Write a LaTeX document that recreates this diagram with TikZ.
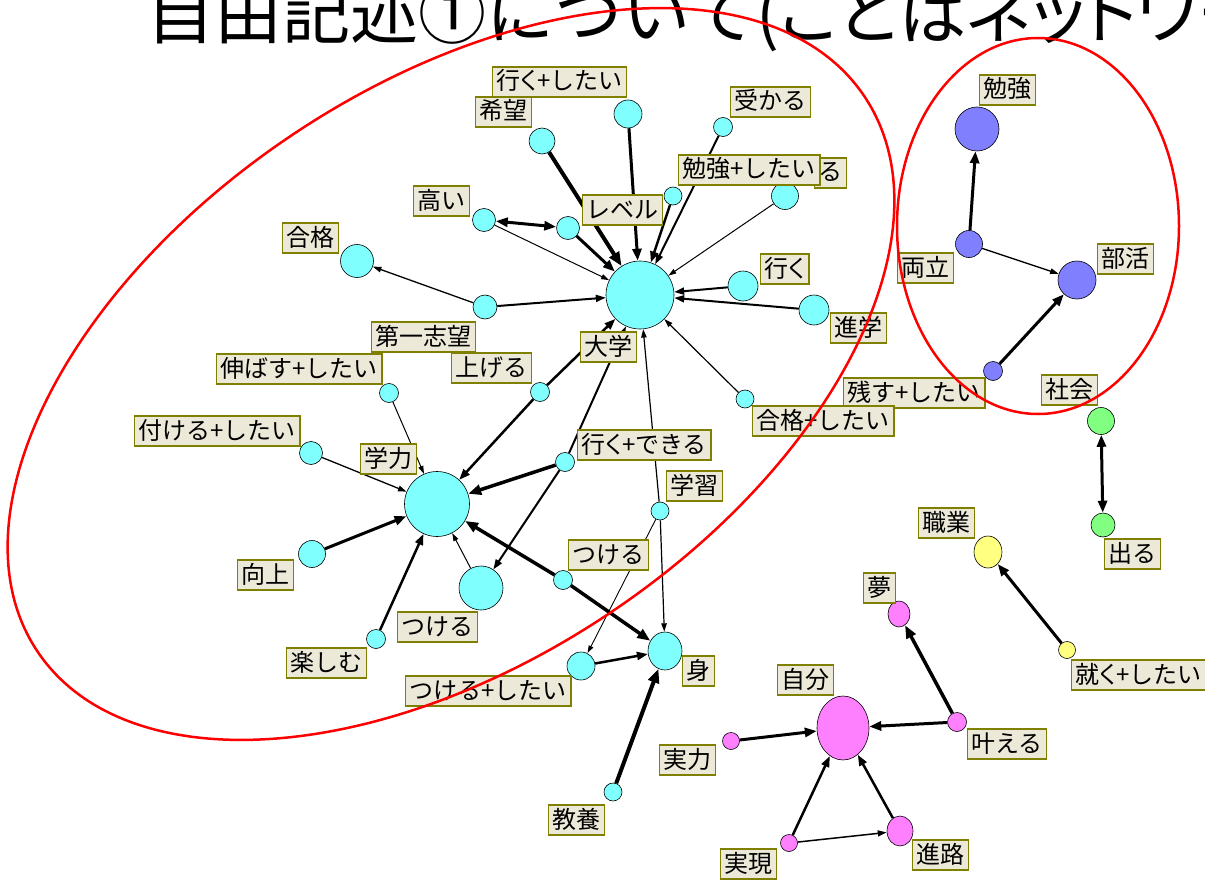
\documentclass[tikz,border=0pt]{standalone}
\usepackage{fontspec}
\usetikzlibrary{arrows.meta,shapes.geometric}
\newfontfamily\jp{Noto Sans CJK JP}
\newfontfamily\jpp{Noto Sans CJK JP}[RawFeature=+palt]
\definecolor{cy}{HTML}{80FFFF}
\definecolor{bl}{HTML}{8080FF}
\definecolor{gr}{HTML}{80FF80}
\definecolor{ye}{HTML}{FFFF80}
\definecolor{pk}{HTML}{FF80FF}
\definecolor{lbfill}{HTML}{ECE9D8}
\definecolor{lbdraw}{HTML}{808000}
\definecolor{rd}{HTML}{FF0000}
\begin{document}
\begin{tikzpicture}[x=1pt,y=-1pt,
  nd/.style={circle,draw=black,line width=0.6pt,inner sep=0pt,minimum size=#1},
  ndE/.style 2 args={ellipse,draw=black,line width=0.6pt,inner sep=0pt,minimum width=#1,minimum height=#2},
  cyN/.style={nd=#1,fill=cy},
  blN/.style={nd=#1,fill=bl},
  grN/.style={nd=#1,fill=gr},
  yeN/.style={nd=#1,fill=ye},
  pkN/.style={nd=#1,fill=pk},
  cyE/.style 2 args={ndE={#1}{#2},fill=cy},
  yeE/.style 2 args={ndE={#1}{#2},fill=ye},
  pkE/.style 2 args={ndE={#1}{#2},fill=pk},
  lb/.style={draw=lbdraw,line width=1.2pt,fill=lbfill,font=\jp\fontsize{24}{24}\selectfont,
    inner xsep=4pt,inner ysep=0pt,minimum height=30pt,text height=20pt,text depth=4pt,anchor=west},
  ed/.style={line width=#1,-{Triangle[length=6pt 2,width=3pt 2]}},
  bi/.style={line width=#1,{Triangle[length=6pt 2,width=3pt 2]}-{Triangle[length=6pt 2,width=3pt 2]}},
  redring/.style={draw=rd,line width=2.5pt}
]
\useasboundingbox (0,0) rectangle (1205,880);
\clip (0,0) rectangle (1205,880);
\fill[white] (0,0) rectangle (1205,880);

% title (cut at the top, as in the reference)
\node[anchor=base west,inner sep=0pt,font=\jp\fontsize{68}{68}\selectfont] (title) at (146,39)
  {自由記述①について({\jpp ことばネットワーク})};

% ---------- nodes ----------
\node[cyN=68] (dg) at (640,295) {};
\node[cyN=28] (ikushitai) at (628,114) {};
\node[cyN=26] (kibou) at (542,141) {};
\node[cyN=19] (ukaru) at (723,127) {};
\node[cyN=18] (benshitai) at (673,196) {};
\node[cyN=27] (ru) at (785,196) {};
\node[cyN=23] (takai) at (484,220) {};
\node[cyN=23] (level) at (568,228) {};
\node[cyN=33] (goukaku) at (357,261) {};
\node[cyN=24] (daiichi) at (485,307) {};
\node[cyN=30] (iku) at (743,286) {};
\node[cyN=30] (shingaku) at (814,310) {};
\node[cyN=18] (goushitai) at (745,399) {};
\node[cyN=19] (ageru) at (540,392) {};
\node[cyN=19] (nobasu) at (389,393) {};
\node[cyN=23] (tsukeshitai) at (311,453) {};
\node[cyN=65] (gakuryoku) at (437,504) {};
\node[cyN=19] (ikudekiru) at (565,462) {};
\node[cyN=18] (gakushu) at (660,511) {};
\node[cyN=27] (kojo) at (312,554) {};
\node[cyN=44] (tsukeL) at (481,588) {};
\node[cyN=19] (tsukeS) at (563,580) {};
\node[cyN=19] (tanoshimu) at (376,639) {};
\node[cyE={34}{38}] (mi) at (665,651) {};
\node[cyN=28] (tsukerushitai) at (581,666) {};
\node[cyN=18] (kyoyo) at (613,792) {};

\node[blN=44] (benkyo) at (977,129) {};
\node[blN=27] (ryoritsu) at (969,244) {};
\node[blN=38] (bukatsu) at (1077,280) {};
\node[blN=19] (nokosu) at (993,371) {};

\node[grN=27] (shakai) at (1101,421) {};
\node[grN=24] (deru) at (1103,525) {};

\node[yeE={28}{32}] (shokugyo) at (988,552) {};
\node[yeN=17] (tsukushitai) at (1067,650) {};

\node[pkE={52}{64}] (jibun) at (843,728) {};
\node[pkE={22}{26}] (yume) at (899,614) {};
\node[pkN=19] (kanaeru) at (957,722) {};
\node[pkN=17] (jitsuryoku) at (731,741) {};
\node[pkN=17] (jitsugen) at (789,843) {};
\node[pkE={26}{30}] (shinro) at (900,831) {};

% ---------- edges ----------
\draw[ed=4pt] (kibou) -- (dg);
\draw[ed=3pt] (ikushitai) -- (dg);
\draw[ed=2pt] (ukaru) -- (dg);
\draw[ed=2.5pt] (benshitai) -- (dg);
\draw[ed=1pt] (ru) -- (dg);
\draw[ed=1pt] (takai) -- (dg);
\draw[bi=3pt] (takai) -- (level);
\draw[ed=3pt] (level) -- (dg);
\draw[ed=2pt] (daiichi) -- (dg);
\draw[ed=1.3pt] (daiichi) -- (goukaku);
\draw[ed=2pt] (iku) -- (dg);
\draw[ed=2pt] (shingaku) -- (dg);
\draw[ed=1.2pt] (goushitai) -- (dg);
\draw[ed=2.5pt] (ageru) -- (dg);
\draw[ed=2.5pt] (ageru) -- (gakuryoku);
\draw[ed=2pt] (ikudekiru) -- (dg);
\draw[ed=3.5pt] (ikudekiru) -- (gakuryoku);
\draw[ed=2pt] (ikudekiru) -- (tsukeL);
\draw[ed=1.2pt] (gakushu) -- (dg);
\draw[ed=1.2pt] (gakushu) -- (mi);
\draw[ed=0.9pt] (gakushu) -- (tsukerushitai);
\draw[ed=3.5pt] (tsukeS) -- (gakuryoku);
\draw[ed=3.5pt] (tsukeS) -- (mi);
\draw[ed=2.5pt] (tsukerushitai) -- (mi);
\draw[ed=4pt] (kyoyo) -- (mi);
\draw[ed=1pt] (nobasu) -- (gakuryoku);
\draw[ed=1.3pt] (tsukeshitai) -- (gakuryoku);
\draw[ed=3pt] (kojo) -- (gakuryoku);
\draw[ed=2.5pt] (tanoshimu) -- (gakuryoku);
\draw[ed=1pt] (tsukeL) -- (gakuryoku);
\draw[ed=3pt] (ryoritsu) -- (benkyo);
\draw[ed=1.3pt] (ryoritsu) -- (bukatsu);
\draw[ed=3pt] (nokosu) -- (bukatsu);
\draw[bi=3pt] (shakai) -- (deru);
\draw[ed=3pt] (tsukushitai) -- (shokugyo);
\draw[ed=3.5pt] (kanaeru) -- (yume);
\draw[ed=3pt] (kanaeru) -- (jibun);
\draw[ed=3pt] (jitsuryoku) -- (jibun);
\draw[ed=2.5pt] (jitsugen) -- (jibun);
\draw[ed=2.5pt] (shinro) -- (jibun);
\draw[ed=1.5pt] (jitsugen) -- (shinro);

% ---------- labels ----------
\node[lb,anchor=east] (ruL) at (847,173) {る};
\node[lb] (ikushitaiL) at (492,82) {行{\jpp く}+したい};
\node[lb] (kibouL) at (475,112) {希望};
\node[lb] (ukaruL) at (730,102) {受かる};
\node[lb] (benshitaiL) at (678,170) {勉強+したい};
\node[lb] (takaiL) at (413,201) {高い};
\node[lb] (levelL) at (582,210) {レベル};
\node[lb] (goukakuL) at (282,238) {合格};
\node[lb] (daiichiL) at (371,337) {第一志望};
\node[lb] (ikuL) at (760,269) {行{\jpp く}};
\node[lb] (shingakuL) at (830,328) {進学};
\node[lb] (nokosuL) at (843,393) {残す+したい};
\node[lb] (goushitaiL) at (752,421) {合格+したい};
\node[lb] (ageruL) at (451,368) {上げる};
\node[lb] (nobasuL) at (216,369) {伸ばす+したい};
\node[lb] (tsukeshitaiL) at (134,431) {付ける+したい};
\node[lb] (gakuryokuL) at (360,459) {学力};
\node[lb] (ikudekiruL) at (577,445) {行{\jpp く}+できる};
\node[lb] (gakushuL) at (666,486) {学習};
\node[lb] (dgL) at (580,347) {大学};
\node[lb] (kojoL) at (237,575) {向上};
\node[lb] (tsukeLL) at (397,627) {つける};
\node[lb] (tsukeSL) at (568,555) {つける};
\node[lb] (tanoshimuL) at (286,663) {楽しむ};
\node[lb] (miL) at (682,671) {身};
\node[lb] (tsukerushitaiL) at (405,691) {つける+したい};
\node[lb] (kyoyoL) at (548,820) {教養};
\node[lb] (benkyoL) at (979,90) {勉強};
\node[lb] (ryoritsuL) at (897,268) {両立};
\node[lb] (bukatsuL) at (1097,259) {部活};
\node[lb] (shakaiL) at (1041,390) {社会};
\node[lb] (deruL) at (1104,554) {出る};
\node[lb] (shokugyoL) at (918,523) {職業};
\node[lb] (tsukushitaiL) at (1071,675) {就{\jpp く}+したい};
\node[lb] (jibunL) at (777,680) {自分};
\node[lb] (yumeL) at (863,588) {夢};
\node[lb] (kanaeruL) at (967,744) {叶える};
\node[lb] (jitsuryokuL) at (659,760) {実力};
\node[lb] (jitsugenL) at (720,864) {実現};
\node[lb] (shinroL) at (912,855) {進路};

% ---------- red rings ----------
\draw[redring,rotate around={33.9:(451,374)}] (451,374) ellipse [x radius=498pt,y radius=287pt];
\draw[redring] (1038,226) ellipse [x radius=141pt,y radius=188pt];
\end{tikzpicture}
\end{document}
